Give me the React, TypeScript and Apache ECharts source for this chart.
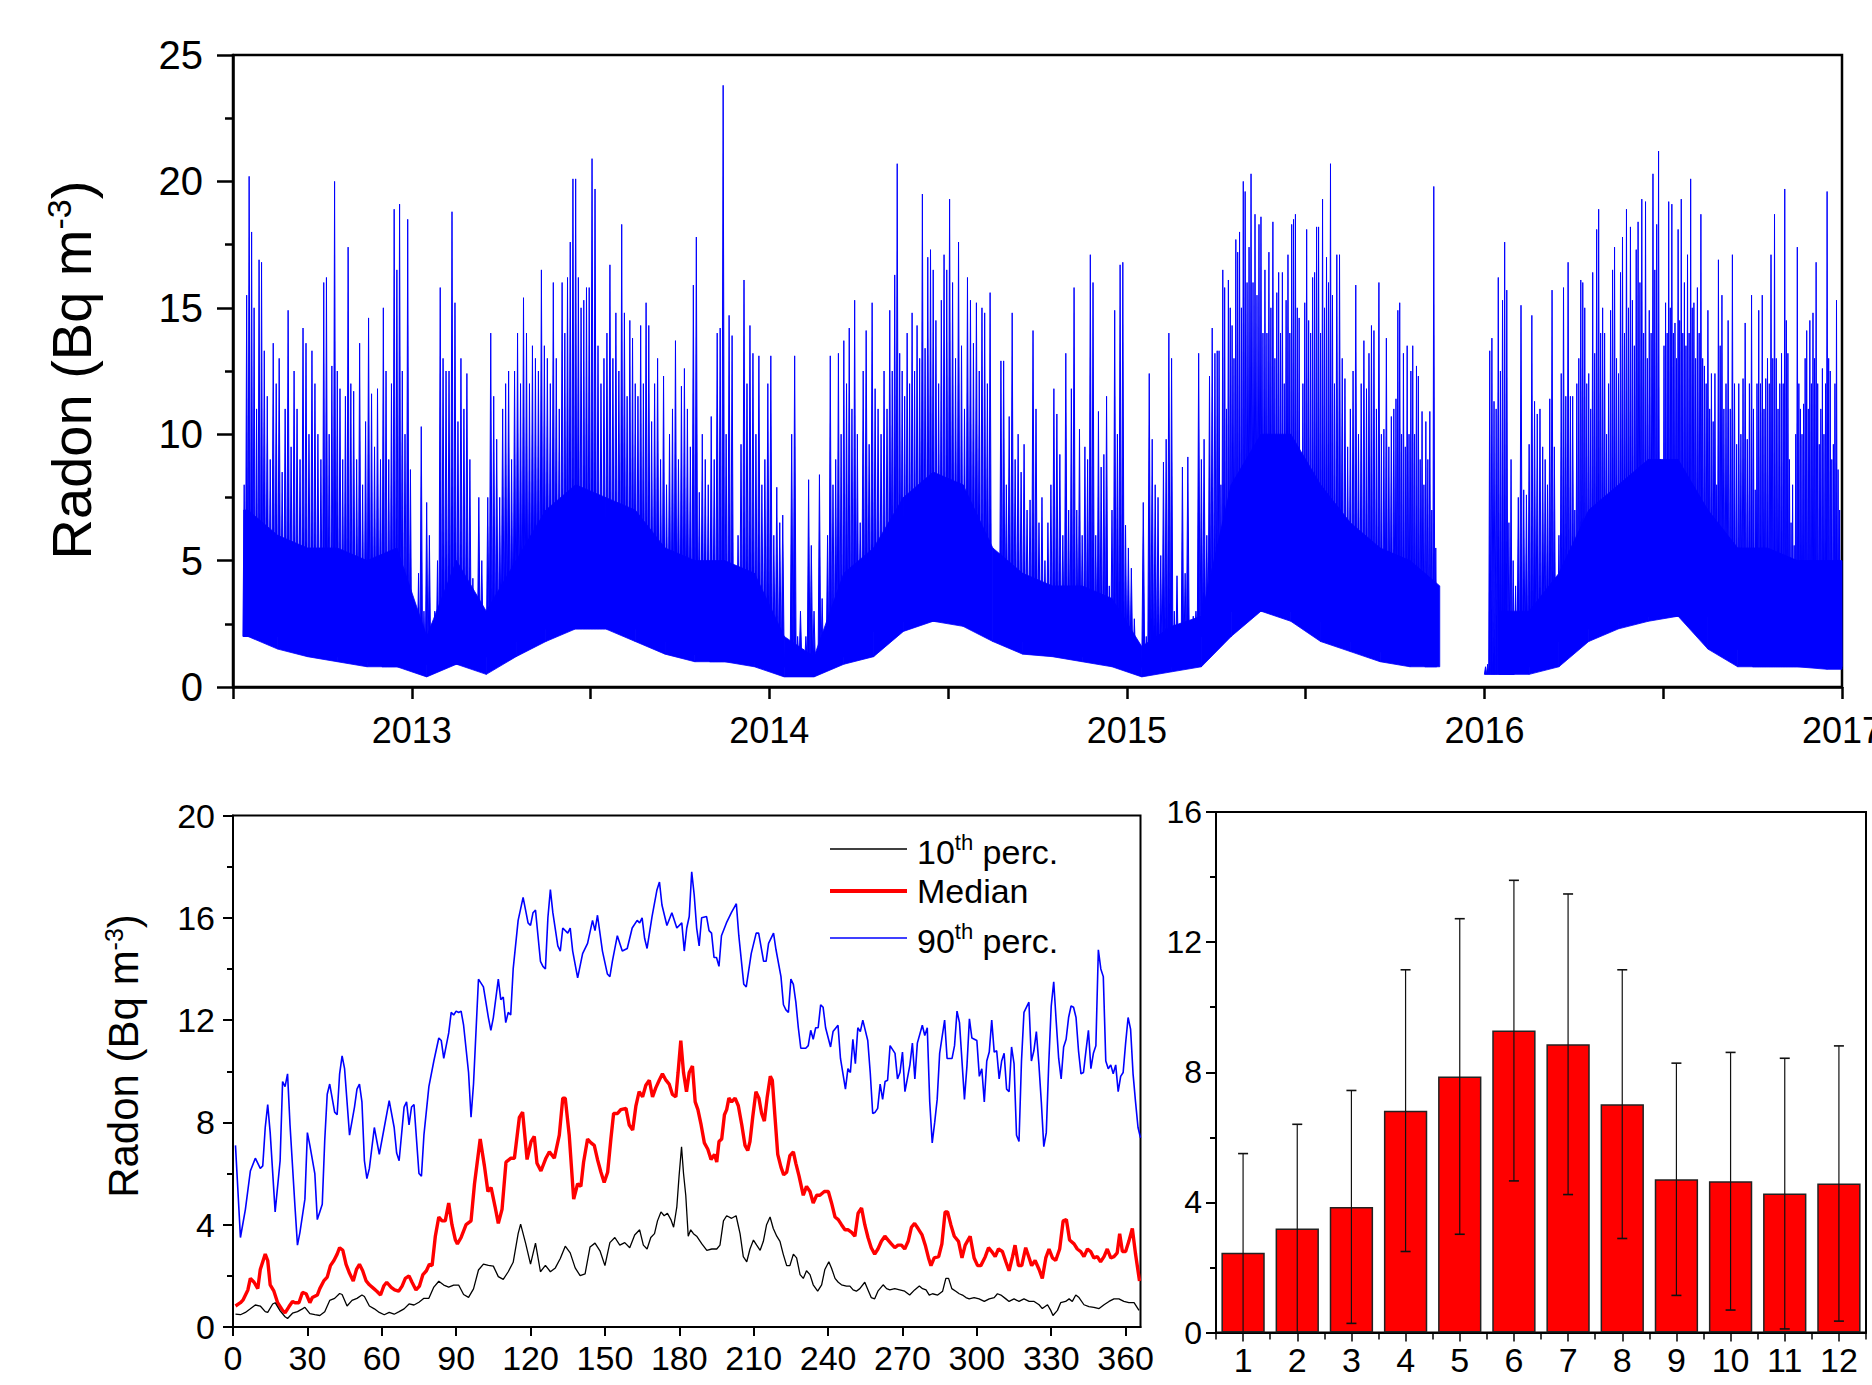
import React, { useEffect, useRef } from 'react';
import * as echarts from 'echarts';

const FONT = "'Liberation Sans', Arial, Helvetica, sans-serif";
const BLUE = '#0000ff';
const RED = '#ff0000';

// ---------- Top panel: hourly radon 2012.5 – 2017 ----------
const startYear = 2012.5; // first month = July 2012
const dataStart = 2012.53;
const dataEnd = 2017.0;
// notable spike peaks per month (Jul 2012 ... Dec 2016); null = no data
const monthSpikes: (number | null)[][] = [
  [null, null, null, null, 8, 15.5, 20.2, 18.0, 15.0, 11.0, 16.9, 16.8],
  [13.3, 11.5, 9.0, 13.6, 12.0, 13.0, 8.5, 11.0, 14.9, 9.5],
  [12.5, 11.0, 9.0, 14.2, 13.6, 10.0, 13.3, 12.0, 10.0, 9.0],
  [16.0, 16.2, 10.0, 12.7, 20.0, 12.5, 11.8, 9.0, 11.5, 17.4, 12.0],
  [11.7, 9.0, 13.6, 8.0, 10.5, 14.6, 11.6, 9.5, 11.8, 9.0],
  [15.0, 12.5, 9.0, 12.0, 18.9, 16.5, 19.1, 12.5, 10.0, 18.5, 8.6],
  [null, null, 4.5, 10.3, 3.0, 7.3, 6.0, 2.5, 3.0, 5.0, 15.8],
  [13.0, 12.5, 12.5, 18.8, 15.2, 10.5, 13.0, 11.0, 12.4, 9.0],
  [4.3, 2.0, 7.5, 5.0, 3.0, 7.5, 14.0, 11.5, 9.8, 7.5],
  [11.0, 12.0, 12.5, 9.0, 12.5, 14.0, 12.0, 15.4, 14.0, 12.0],
  [13.5, 13.0, 12.5, 16.5, 13.5, 13.0, 12.0, 16.0, 13.0, 11.0],
  [16.0, 14.0, 16.2, 17.6, 20.1, 20.1, 16.2, 15.0, 15.3, 15.8, 15.8],
  [20.9, 19.7, 13.5, 12.0, 13.0, 14.0, 16.7, 13.0, 14.8, 12.5],
  [18.3, 14.8, 11.5, 14.5, 13.8, 12.0, 11.5, 14.3, 12.0, 15.2, 14.3],
  [10.5, 12.0, 13.0, 9.0, 12.3, 8.0, 10.0, 11.0, 13.7, 9.0],
  [11.9, 12.6, 11.0, 9.5, 15.9, 17.8, 7.7, 10.0, 9.0, 8.0],
  [10.7, 9.0, 14.0, 14.2, 23.8, 10.0, 14.7, 13.9, 4.7, 6.0],
  [9.6, 16.1, 12.0, 14.3, 13.2, 10.0, 13.1, 8.0, 9.0, 12.0],
  [13.1, 6.0, 7.9, 6.5, 6.8, 1.5, 1.2, 10.0, 13.1, 2.0],
  [3.0, 1.5, 2.0, 8.2, 5.6, 3.0, null, 8.4, 3.5, 1.8, 6.0],
  [13.1, 8.0, 9.0, 13.2, 10.0, 13.7, 12.0, 14.2, 11.0, 15.3, 10.0],
  [6.5, 12.5, 14.1, 9.6, 15.2, 11.8, 11.0, 10.0, 12.5, 11.0],
  [14.9, 12.5, 16.3, 20.7, 13.2, 12.5, 11.5, 14.0, 12.0, 14.8, 12.5, 14.3],
  [13.0, 19.5, 13.4, 17.0, 17.3, 16.5, 14.5, 12.0, 15.3, 17.1, 16.5],
  [19.3, 16.0, 13.0, 17.6, 13.5, 11.0, 16.2, 15.3, 13.6, 15.2],
  [12.5, 15.0, 14.8, 12.0, 15.6, null, null, null, 12.9, 12.9, 8.0],
  [10.7, 14.8, 9.0, 10.0, 8.5, 9.6, 7.0, 7.4, 14.1, 11.0],
  [6.5, 7.5, 5.0, 6.5, 8.0, 11.8, 10.8, 9.2, 6.0, 13.2],
  [7.0, 11.8, 15.8, 7.0, 10.2, 6.0, 9.5, 9.0, 17.1, 16.0, 6.0],
  [10.9, 8.7, 9.2, 11.5, 4.0, 7.0, 14.9, 10.0, 16.7, 16.8, 6.4],
  [5.5, 4.7, 2.7, 1.5, 1.2, 7.3, 2.0, 12.4, 9.8, 8.0],
  [7.5, 5.2, 8.9, 9.8, 14.0, 13.0, 3.0, 4.4, 2.0, 8.7, 4.5],
  [9.1, 1.5, 2.8, 3.0, 13.2, 9.0, 9.8, 6.0, 12.3, 14.2, 13.2],
  [13.3, 13.3, 8.0, 16.5, 15.8, 11.0, 16.1, 15.0, 14.3, 13.0, 17.7, 17.2, 18.0, 15.0, 20.0, 19.6],
  [16.0, 17.4, 20.3, 16.0, 18.7, 15.5, 18.3, 18.6, 14.0, 16.5, 14.0, 17.2, 15.0, 18.4, 13.0],
  [15.6, 16.4, 14.0, 16.4, 12.0, 15.3, 17.1, 14.0, 18.3, 18.5, 18.7, 15.0, 14.6, 9.0, 12.0, 15.2],
  [18.1, 14.5, 14.0, 16.2, 16.4, 18.2, 18.2, 14.0, 19.3, 15.0, 17.0, 16.0, 20.7, 15.5, 12.0],
  [17.1, 17.1, 13.0, 12.2, 9.5, 11.0, 12.5, 15.9, 10.0, 12.0, 13.7],
  [11.8, 13.2, 14.3, 14.1, 11.0, 16.0, 10.0, 10.2, 13.8, 9.5, 10.7, 11.0],
  [11.4, 14.9, 15.2, 10.0, 13.2, 9.5, 13.5, 10.0, 12.5, 13.5, 10.0, 12.7, 12.3, 9.0, 10.9, 8.0],
  [10.5, 9.0, 10.9, 7.0, 19.8, 5.5, null, null, null, null, null, null, null, null, null],
  [null],
  [0.8, 0.9, 13.3, 13.8, 11.3, 11.0, 16.2, 12.5, 15.3, 17.6, 15.7, 6.5, 9.0, 5.0],
  [4.0, 7.5, 15.1, 7.8, 7.6, 9.6, 14.7, 11.3, 10.8, 11.0, 9.5],
  [9.0, 8.0, 11.4, 15.7, 9.5, 4.3, 6.0, 12.4, 15.8, 11.5, 16.8, 11.5, 11.5],
  [7.0, 12.0, 13.0, 16.1, 16.0, 15.0, 12.0, 12.4, 11.0, 16.4, 13.2, 18.1, 18.9, 14.0, 15.0],
  [14.0, 10.0, 12.0, 14.9, 16.5, 17.4, 13.0, 12.4, 16.4, 17.8, 14.0, 18.9, 15.0, 18.2, 15.3],
  [13.5, 17.3, 18.4, 16.0, 19.3, 14.0, 19.2, 13.0, 14.9, 14.0, 20.3, 16.5, 18.3, 21.2, 9.0, 7.5],
  [13.5, 15.2, 14.0, 19.2, 15.0, 19.1, 14.0, 14.4, 13.0, 18.1, 14.5, 19.3, 14.0, 16.0, 13.5, 17.1, 14.0, 20.1, 15.0],
  [15.2, 13.0, 15.8, 14.0, 18.7, 13.0, 12.7, 12.0, 14.9, 11.0, 12.4, 10.5, 12.4, 8.0, 16.9, 13.5, 15.5],
  [11.0, 12.0, 14.5, 11.0, 17.1, 12.0, 9.6, 12.0, 10.0, 12.2, 14.4, 9.8, 12.0, 15.5],
  [11.0, 7.8, 12.0, 14.9, 12.0, 15.5, 11.0, 12.2, 13.0, 12.0, 17.1, 13.0, 18.7, 13.0, 11.0, 12.0, 13.2],
  [12.0, 19.7, 14.5, 13.2, 9.0, 6.5, 8.0, 5.6, 10.0, 17.4, 12.0, 11.0, 10.0, 11.2, 13.0, 14.1, 11.0, 14.5, 12.0],
  [14.8, 13.0, 16.8, 12.0, 9.6, 11.0, 12.6, 10.0, 12.0, 19.6, 13.0, 12.5, 9.0, 9.6, 12.0, 15.3, 8.6, 7.0, 5.0],
];
// monthly typical minimum and top of the densely filled body
const monthLows: (number | null)[] = [
  2.0, 1.5, 1.2, 1.0, 0.8, 0.8,
  0.4, 0.9, 0.5, 1.2, 1.8, 2.3, 2.3, 1.8, 1.3, 1.0, 1.0, 0.8,
  0.4, 0.4, 0.9, 1.2, 2.2, 2.6, 2.4, 1.8, 1.3, 1.2, 1.0, 0.8,
  0.4, 0.6, 0.8, 2.0, 3.0, 2.6, 1.8, 1.4, 1.0, 0.8, 0.8, null,
  0.5, 0.5, 0.8, 1.8, 2.3, 2.6, 2.8, 1.5, 0.8, 0.8, 0.8, 0.7,
];
const monthTops: (number | null)[] = [
  7, 6, 5.5, 5.5, 5, 5.5,
  2, 5, 3, 5, 7, 8, 7.5, 7, 5.5, 5, 5, 4.5,
  2, 1.2, 4.5, 5.5, 7.5, 8.5, 8, 5.5, 4.5, 4, 4, 3.5,
  1.6, 2.4, 2.8, 8, 10, 10, 8, 6.5, 5.5, 5, 4, null,
  3, 3, 4.5, 7, 8, 9, 9, 7, 5.5, 5.5, 5, 5,
];

// ---------- Bottom-left: daily percentiles (day of year) ----------
const p10: [number, number][] = [
  [1,0.5],[3,0.48],[5,0.57],[7,0.71],[9,0.86],[11,0.82],[13,0.6],[14,0.57],[16,0.9],[17,0.95],[19,0.63],[21,0.4],[22,0.33],[24,0.54],[26,0.6],[28,0.71],[29,0.77],[31,0.52],[33,0.48],[35,0.45],[37,0.6],[39,1.04],[41,1.12],[43,1.31],[44,1.27],[46,0.82],[48,1.04],[50,1.12],[52,1.25],[53,1.19],[55,0.82],[57,0.71],[59,0.57],[61,0.48],[63,0.57],[65,0.5],[67,0.6],[69,0.71],[71,0.9],[73,0.86],[75,0.97],[77,1.12],[79,1.12],[81,1.56],[83,1.79],[85,1.64],[87,1.56],[89,1.64],[91,1.64],[93,1.27],[95,1.16],[97,1.49],[99,2.23],[101,2.46],[103,2.41],[105,2.38],[107,1.97],[109,1.86],[111,2.16],[113,2.53],[115,3.65],[116,4.02],[118,3.28],[120,2.46],[122,3.28],[124,2.16],[126,2.41],[128,2.16],[130,2.31],[132,2.68],[134,3.16],[136,2.9],[138,2.31],[140,2.01],[142,2.08],[144,3.13],[146,3.28],[148,2.98],[150,2.4],[152,3.3],[154,3.5],[156,3.2],[158,3.3],[160,3.1],[162,3.6],[164,3.8],[165.5,3.2],[167,3.05],[168.5,3.5],[170,3.65],[171.2,4.15],[172.6,4.5],[173.9,4.35],[175.2,4.45],[176.6,4.2],[177.7,3.9],[179,4.7],[179.9,5.9],[180.9,7.05],[181.7,6.0],[182.6,5.15],[183.6,3.55],[184.6,3.8],[185.7,3.65],[187,3.55],[189.1,3.25],[191.1,3.0],[193.1,3.05],[195.1,3.05],[196.4,3.2],[197.8,4.15],[199.1,4.35],[201.1,4.25],[202.9,4.35],[204.5,3.65],[205.8,2.75],[207.2,2.55],[208.5,3.05],[209.9,3.4],[211.2,3.2],[212.6,3.0],[213.9,3.35],[215.2,4.0],[216.6,4.3],[217.9,3.85],[219.3,3.55],[220.6,3.35],[221.9,2.85],[223.3,2.4],[224.6,2.4],[226,2.85],[227.3,2.7],[228.7,2.05],[230,1.9],[231.3,2.2],[232.7,2.05],[234,1.65],[235.8,1.4],[237.4,1.65],[238.7,2.25],[240.3,2.55],[241.4,2.3],[242.8,1.9],[244.1,1.75],[245.4,1.65],[247.4,1.6],[248.8,1.6],[250.1,1.45],[251.4,1.4],[252.8,1.5],[254.8,1.75],[256.1,1.45],[257.4,1.15],[258.8,1.1],[260.1,1.4],[262.2,1.65],[263.6,1.5],[264.9,1.45],[266.9,1.5],[268.9,1.45],[270.9,1.4],[272.9,1.25],[274.9,1.45],[276.8,1.6],[278.1,1.5],[279.5,1.45],[280.8,1.25],[282.1,1.3],[284.2,1.25],[286.2,1.4],[287.5,1.9],[288.6,1.9],[289.9,1.5],[291.5,1.4],[292.9,1.3],[294.2,1.25],[295.6,1.15],[296.9,1.1],[298.9,1.15],[300.9,1.1],[303,1.0],[305,1.1],[307,1.15],[308.3,1.3],[309.7,1.25],[311.7,1.1],[313,1.0],[315,1.1],[317,1.0],[319,1.1],[321.1,1.0],[323.1,1.0],[325.1,0.87],[326.4,0.72],[328.5,0.87],[329.8,0.65],[330.7,0.45],[332.5,0.65],[333.8,0.95],[335.8,1.0],[337.2,1.1],[338.5,1.0],[339.9,1.25],[341.2,1.15],[343.2,0.87],[345.2,0.8],[347.2,0.77],[349.3,0.72],[351.3,0.87],[353.3,1.0],[355.3,1.1],[357.3,1.1],[359.3,1.0],[361.3,0.95],[363.4,0.95],[365.4,0.65],
];
const median: [number, number][] = [
  [1,0.82],[3,0.95],[4,1.05],[6,1.45],[7,1.9],[8.5,1.75],[10,1.5],[11,2.25],[13,2.85],[14,2.6],[15,1.65],[16.5,1.4],[18,0.95],[20,0.65],[21,0.55],[22.6,0.8],[24,1.0],[25,0.95],[26.6,0.95],[28,1.35],[29.5,1.3],[31,0.95],[32,1.15],[34,1.25],[35,1.5],[36.6,1.8],[38,1.95],[39.3,2.4],[40.7,2.6],[42,2.85],[43,3.1],[44.3,3.0],[45.6,2.45],[47,2.1],[48.5,1.8],[49.8,2.25],[51,2.45],[52.3,2.2],[53.7,1.8],[55,1.65],[56.8,1.5],[58,1.4],[59.5,1.25],[60.8,1.6],[62,1.75],[63.8,1.55],[65.2,1.45],[66.8,1.4],[68.2,1.6],[69.5,1.9],[71,2.0],[72.2,1.75],[73.8,1.45],[75.2,1.6],[76.6,2.05],[78,2.2],[79.2,2.45],[80.3,2.4],[81.6,3.55],[83,4.3],[84.3,4.15],[85.6,4.15],[87,4.85],[88.3,4.0],[89.7,3.4],[90.5,3.25],[92,3.5],[94,4.0],[96,4.15],[97.4,5.6],[99.7,7.35],[101.4,6.3],[102.8,5.3],[104.1,5.45],[105.7,4.7],[107,4.05],[108.5,4.6],[110.1,6.45],[112.1,6.6],[113.5,6.6],[115.5,8.2],[116.8,8.4],[118.6,6.55],[120.2,7.25],[121.5,7.45],[122.6,6.4],[124.2,6.1],[126.2,6.6],[127.6,6.85],[129.6,6.6],[131.6,7.5],[133,8.95],[134,8.95],[135.6,7.5],[137.4,5.0],[139,5.6],[140.3,5.5],[141.4,6.45],[143,7.35],[144.4,7.2],[145.7,7.1],[147,6.55],[148.4,6.05],[149.7,5.65],[151.1,6.05],[152.4,7.35],[153.5,8.35],[155.1,8.35],[156.4,8.5],[158.5,8.55],[159.8,7.9],[161.2,7.7],[162.5,8.65],[163.8,9.2],[165.2,9.0],[166.5,9.45],[167.9,9.65],[169.2,9.0],[170.5,9.35],[171.9,9.65],[173.2,9.9],[174.6,9.65],[175.9,9.5],[177.2,9.1],[178.6,9.0],[179.5,9.95],[180.6,11.2],[181.7,9.95],[182.9,9.2],[184,9.95],[185.3,10.2],[186.4,8.8],[187.5,8.5],[188.8,7.9],[190.1,7.2],[191.5,6.95],[192.8,6.55],[194.2,6.75],[195.1,6.45],[196,7.25],[197.1,7.35],[198.2,8.3],[199.1,8.5],[200,8.95],[201.1,8.8],[202.5,8.95],[203.8,8.65],[205.2,7.9],[206.5,7.1],[207.6,6.9],[208.5,7.25],[209.6,8.2],[210.9,9.2],[212.1,8.95],[213.2,8.35],[214.3,8.05],[215.4,8.95],[216.7,9.8],[217.5,9.65],[218.6,8.2],[219.7,6.75],[221,6.25],[222.1,5.95],[223.3,6.05],[224.6,6.7],[226,6.85],[227,6.4],[228.3,5.9],[230,5.15],[231.3,5.5],[232.7,5.3],[234,4.85],[235.4,5.15],[236.7,5.15],[238.5,5.3],[240.1,5.3],[241.4,4.85],[242.8,4.3],[244.1,4.2],[245.4,4.0],[246.8,3.8],[248.1,3.8],[249.5,3.7],[250.8,3.55],[252.1,4.45],[253.5,4.65],[254.8,4.0],[256.1,3.5],[257.4,3.1],[258.8,2.85],[260.1,3.05],[261.5,3.35],[262.9,3.55],[264.2,3.4],[265.5,3.25],[266.9,3.1],[268.2,3.2],[269.6,3.2],[270.9,3.05],[272.3,3.35],[273.6,3.9],[274.9,4.05],[276.3,3.85],[277.9,3.6],[279.2,3.2],[280.5,2.7],[281.5,2.4],[282.8,2.7],[284.6,2.75],[285.9,3.25],[287.2,4.5],[288.2,4.5],[289.5,4.0],[290.9,3.55],[292.6,3.35],[294,2.7],[295.3,3.2],[297.3,3.55],[298.9,2.7],[300.3,2.4],[301.6,2.4],[303.4,2.75],[304.7,3.1],[306,2.95],[307.4,2.75],[308.7,3.05],[310.3,2.95],[311.7,2.55],[313,2.2],[314.4,2.75],[315.4,3.2],[316.8,2.4],[318.1,2.4],[319.7,3.1],[321.1,2.7],[322.1,2.4],[323.5,2.6],[325.1,2.25],[326.4,1.9],[327.8,2.7],[329.1,3.05],[330.5,2.7],[331.8,2.6],[333.4,3.05],[334.8,4.15],[336.1,4.2],[337.4,3.4],[339.2,3.25],[340.5,3.05],[341.9,2.95],[343.2,2.75],[344.6,3.05],[345.9,2.95],[347.2,2.7],[348.6,2.75],[349.9,2.55],[351.3,2.75],[352.6,3.05],[354,2.7],[355.3,2.75],[356.6,2.9],[357.6,3.65],[358.7,2.95],[360,2.95],[361.3,3.35],[362.7,3.85],[364,2.85],[365.6,1.8],
];
const p90: [number, number][] = [
  [1,7.1],[3,3.5],[5,4.6],[7,6.1],[9,6.6],[11,6.2],[12,6.3],[13,7.8],[14,8.7],[15,7.6],[17,4.5],[19,6.5],[20,9.6],[21,9.4],[22,9.9],[23,7.9],[25,4.7],[26,3.2],[27,3.7],[29,5.0],[30,7.6],[31,7.1],[33,6.0],[34,4.2],[35,4.5],[36,4.8],[37,7.3],[38,9.1],[39,9.5],[41,8.4],[42,8.3],[43,9.9],[44,10.6],[45,10.1],[47,7.5],[49,8.6],[50,9.3],[51,9.5],[52,8.8],[53,6.5],[54,5.8],[55,6.2],[57,7.8],[59,6.75],[61,7.8],[63,8.85],[65,7.8],[66,6.8],[67,6.5],[69,8.6],[70,8.8],[71,7.9],[72,8.6],[73,8.7],[75,6.0],[76,5.9],[77,7.5],[79,9.4],[81,10.4],[83,11.3],[84,11.2],[85,10.5],[87,11.5],[88,12.3],[89,12.2],[90,12.35],[91,12.3],[92,12.35],[93,11.8],[95,9.95],[96,8.2],[97,9.5],[99,13.6],[101,13.3],[103,12.1],[104,11.6],[105,12.1],[107,13.6],[108,12.8],[109,12.9],[110,11.9],[111,12.3],[112,12.2],[113,14.0],[115,15.9],[117,16.8],[119,15.8],[120,15.7],[121,16.2],[122,16.3],[123,15.3],[124,14.3],[125,14.1],[126,14.0],[127,16.0],[128,17.1],[129,16.2],[131,14.9],[132,14.7],[133,15.6],[135,15.4],[136,15.6],[137,14.7],[139,13.65],[141,14.6],[143,15.0],[145,15.9],[146,15.5],[147,16.1],[149,14.7],[151,13.8],[152,13.7],[153,14.3],[155,15.3],[157,14.7],[159,14.8],[161,15.6],[163,15.9],[164,15.8],[165,16.0],[166,15.2],[167,14.8],[169,16.05],[171,17.1],[172,17.4],[173,16.5],[175,15.7],[177,16.2],[179,15.6],[181,15.8],[182,14.7],[183,15.6],[184,16.05],[185,17.8],[186,16.9],[187,15.6],[188,14.9],[189,16.0],[191,16.05],[192,15.5],[193,15.4],[194,14.45],[195,14.45],[196,14.1],[197,15.3],[199,15.8],[201,16.2],[203,16.55],[204,15.3],[206,13.4],[207,13.3],[209,14.6],[211,15.4],[212,15.4],[214,14.3],[215,14.3],[216,15.0],[218,15.4],[219,14.75],[221,13.7],[222,12.6],[223,12.4],[224,12.3],[225,13.6],[226,13.4],[227,12.7],[228,11.7],[229,10.9],[231,10.9],[232,11.0],[233,11.6],[234,11.25],[235,11.7],[236,11.7],[237,12.6],[238,12.5],[239,11.7],[241,10.95],[242,11.55],[244,11.8],[245,10.5],[247,9.3],[248,10.1],[249,9.95],[250,11.25],[251,10.3],[252,11.7],[253,11.55],[254,12.0],[256,11.2],[257,9.95],[258,8.35],[259,8.4],[260,8.55],[261,9.5],[262,8.9],[263,9.6],[264,9.65],[265,11.0],[267,10.7],[268,9.7],[269,9.95],[270,10.75],[271,9.2],[273,10.25],[274,11.1],[275,9.7],[276,11.1],[278,11.8],[279,11.4],[280,11.7],[281,8.8],[282,7.2],[283,8.0],[284,8.9],[285,10.7],[287,12.0],[288,10.5],[290,10.5],[291,11.0],[292,12.35],[293,11.9],[295,8.9],[296,10.2],[297,12.05],[298,11.3],[300,11.2],[301,9.8],[302,10.1],[303,8.8],[304,10.4],[305,10.75],[306,12.0],[307,10.75],[308,10.8],[309,9.7],[310,10.4],[311,10.7],[312,9.3],[313,9.2],[314,10.95],[315,10.3],[316,7.5],[317,7.25],[318,10.4],[319,12.3],[321,12.7],[322,10.4],[323,10.8],[324,11.55],[325,10.3],[326,8.8],[327,7.05],[328,7.6],[329,10.3],[330,12.55],[331,13.5],[332,11.95],[333,10.5],[334,9.7],[335,10.95],[336,11.25],[337,12.1],[338,12.55],[339,12.5],[340,12.1],[341,10.8],[342,9.9],[343,9.95],[344,10.8],[345,11.6],[346,10.1],[347,10.7],[348,11.0],[349,14.75],[350,14.0],[351,13.7],[352,10.4],[353,10.1],[354,10.25],[355,9.9],[356,10.25],[357,9.2],[358,9.8],[359,9.95],[360,11.1],[361,12.1],[362,11.65],[363,9.9],[364,8.8],[365,7.8],[366,7.4],
];

// ---------- Bottom-right: monthly means ± SD ----------
const monthLabels = ['1', '2', '3', '4', '5', '6', '7', '8', '9', '10', '11', '12'];
const monthMeans = [2.45, 3.2, 3.86, 6.82, 7.87, 9.28, 8.86, 7.02, 4.71, 4.65, 4.27, 4.58];
const monthSDs = [3.05, 3.2, 3.58, 4.33, 4.85, 4.62, 4.62, 4.13, 3.57, 3.96, 4.16, 4.23];

// base of the spikes in month m: the highest of the neighbouring monthly lows,
// so every spike rests inside the filled body
function spikeBase(m: number) {
  const cands = [monthLows[m - 1], monthLows[m], monthLows[m + 1]].filter((v) => v != null) as number[];
  return Math.max(...cands);
}

// one item per spike: [time, peak, base, half-width]
function buildSpikeItems() {
  const items: number[][] = [];
  monthSpikes.forEach((list, m) => {
    const t0 = startYear + m / 12;
    const step = 1 / 12 / list.length;
    if (monthLows[m] == null) return;
    const base = m === 42 ? (monthLows[m] as number) : spikeBase(m);
    list.forEach((v, i) => {
      if (v == null) return;
      items.push([t0 + (i + 0.5) * step, v, base, step / 2]);
    });
  });
  return items;
}

// body polygons: [x0, low0, top0, x1, low1, top1]
function buildBandSegments() {
  const segs: number[][] = [];
  const n = monthLows.length;
  for (let m = 0; m < n; m++) {
    const l = monthLows[m], t = monthTops[m];
    if (l == null || t == null) continue;
    const mid = startYear + (m + 0.5) / 12;
    const nextOk = m < n - 1 && monthLows[m + 1] != null;
    if (m === 0) segs.push([dataStart, l, t, mid, l, t]);
    if (nextOk) {
      segs.push([mid, l, t, startYear + (m + 1.5) / 12, monthLows[m + 1] as number, monthTops[m + 1] as number]);
    } else if (m === n - 1) {
      segs.push([mid, l, t, dataEnd, l, t]);
    }
  }
  return segs;
}

const axisBlack = (w: number) => ({ show: true, lineStyle: { color: '#000', width: w } });

export default function App() {
  const ref = useRef<HTMLDivElement>(null);
  useEffect(() => {
    document.body.style.margin = '0';
    if (!ref.current) return;
    const chart = echarts.init(ref.current, undefined, { renderer: 'svg' });

    const labelStyle = (size: number, margin: number) => ({
      color: '#000',
      fontSize: size,
      fontFamily: FONT,
      margin,
    });

    const supRich = (big: number, small: number, lh: number, pad: number) => ({
      a: { fontSize: big, fontFamily: FONT, fill: '#000', lineHeight: lh, verticalAlign: 'bottom' },
      b: { fontSize: small, fontFamily: FONT, fill: '#000', lineHeight: small, verticalAlign: 'top', padding: [pad, 0, 0, 0] },
    });

    const option: any = {
      animation: false,
      backgroundColor: '#fff',
      grid: [
        { left: 233, top: 55, width: 1609, height: 632, show: true, borderColor: '#000', borderWidth: 2.5, outerBoundsMode: 'none', containLabel: false },
        { left: 233, top: 815.5, width: 907.5, height: 511.5, show: true, borderColor: '#000', borderWidth: 2, outerBoundsMode: 'none', containLabel: false },
        { left: 1216, top: 812, width: 650, height: 520.5, show: true, borderColor: '#000', borderWidth: 2, outerBoundsMode: 'none', containLabel: false },
      ],
      xAxis: [
        {
          gridIndex: 0, type: 'value', min: 2012.5, max: 2017, interval: 0.5,
          axisLine: axisBlack(2.5),
          axisTick: { show: true, length: 12, lineStyle: { color: '#000', width: 2.5 } },
          splitLine: { show: false },
          axisLabel: {
            ...labelStyle(36, 25),
            formatter: (v: number) => (Math.abs(v - Math.round(v)) < 1e-6 ? String(Math.round(v)) : ''),
          },
        },
        {
          gridIndex: 1, type: 'value', min: 0, max: 366, interval: 30,
          axisLine: axisBlack(2),
          axisTick: { show: true, length: 9, lineStyle: { color: '#000', width: 2 } },
          splitLine: { show: false },
          axisLabel: { ...labelStyle(34, 14), showMaxLabel: false },
        },
        {
          gridIndex: 2, type: 'category', data: monthLabels, position: 'bottom',
          axisLine: axisBlack(2),
          axisTick: { show: true, alignWithLabel: false, length: 7, lineStyle: { color: '#000', width: 1.5 } },
          axisLabel: labelStyle(34, 10),
        },
        {
          gridIndex: 2, type: 'category', data: monthLabels, position: 'bottom',
          axisLine: { show: false },
          axisTick: { show: true, alignWithLabel: true, length: 9, lineStyle: { color: '#000', width: 1.5 } },
          axisLabel: { show: false },
        },
      ],
      yAxis: [
        {
          gridIndex: 0, type: 'value', min: 0, max: 25, interval: 5,
          axisLine: axisBlack(2.5),
          axisTick: { show: true, length: 16, lineStyle: { color: '#000', width: 2.5 } },
          minorTick: { show: true, splitNumber: 2, length: 8, lineStyle: { color: '#000', width: 2.5 } },
          splitLine: { show: false },
          axisLabel: labelStyle(40, 30),
        },
        {
          gridIndex: 1, type: 'value', min: 0, max: 20, interval: 4,
          axisLine: axisBlack(2),
          axisTick: { show: true, length: 10, lineStyle: { color: '#000', width: 2 } },
          minorTick: { show: true, splitNumber: 2, length: 6, lineStyle: { color: '#000', width: 2 } },
          splitLine: { show: false },
          axisLabel: labelStyle(34, 18),
        },
        {
          gridIndex: 2, type: 'value', min: 0, max: 16, interval: 4,
          axisLine: axisBlack(2),
          axisTick: { show: true, length: 10, lineStyle: { color: '#000', width: 2 } },
          minorTick: { show: true, splitNumber: 2, length: 6, lineStyle: { color: '#000', width: 2 } },
          splitLine: { show: false },
          axisLabel: labelStyle(32, 14),
        },
      ],
      series: [
        {
          type: 'custom', xAxisIndex: 0, yAxisIndex: 0, z: 1, silent: true,
          data: buildBandSegments(),
          encode: { x: [0, 3], y: [1, 2, 4, 5] },
          renderItem: (params: any, api: any) => {
            const x0 = api.value(0), l0 = api.value(1), t0 = api.value(2);
            const x1 = api.value(3), l1 = api.value(4), t1 = api.value(5);
            const pts = [api.coord([x0, l0]), api.coord([x1, l1]), api.coord([x1, t1]), api.coord([x0, t0])];
            return { type: 'polygon', shape: { points: pts }, style: { fill: BLUE, stroke: BLUE, lineWidth: 0.8 } };
          },
        },
        {
          type: 'custom', xAxisIndex: 0, yAxisIndex: 0, z: 2, silent: true,
          data: buildSpikeItems(),
          encode: { x: 0, y: [1, 2] },
          renderItem: (params: any, api: any) => {
            const t = api.value(0), v = api.value(1), low = api.value(2), hw = api.value(3);
            const pts = [api.coord([t - hw, low]), api.coord([t, v]), api.coord([t + hw, low])];
            return {
              type: 'polygon',
              shape: { points: pts },
              style: { fill: BLUE, stroke: BLUE, lineWidth: 1, lineJoin: 'bevel' },
            };
          },
        },
        {
          name: '90th perc.', type: 'line', xAxisIndex: 1, yAxisIndex: 1, data: p90, symbol: 'none',
          lineStyle: { color: BLUE, width: 1.6 },
        },
        {
          name: 'Median', type: 'line', xAxisIndex: 1, yAxisIndex: 1, data: median, symbol: 'none',
          lineStyle: { color: RED, width: 3.4 },
        },
        {
          name: '10th perc.', type: 'line', xAxisIndex: 1, yAxisIndex: 1, data: p10, symbol: 'none',
          lineStyle: { color: '#000', width: 1.3 },
        },
        {
          type: 'bar', xAxisIndex: 2, yAxisIndex: 2, data: monthMeans, barWidth: '80%',
          itemStyle: { color: RED, borderColor: '#222', borderWidth: 1.5 },
        },
        {
          type: 'custom', xAxisIndex: 2, yAxisIndex: 2, z: 5,
          data: monthMeans.map((m, i) => [i, m, monthSDs[i]]),
          encode: { x: 0, y: 1 },
          renderItem: (params: any, api: any) => {
            const i = api.value(0);
            const m = api.value(1);
            const s = api.value(2);
            const lowV = m - s;
            const top = api.coord([i, m + s]);
            const bot = api.coord([i, Math.max(0, lowV)]);
            const cap = 5;
            const st = { stroke: '#111', lineWidth: 1.2 };
            const children: any[] = [
              { type: 'line', shape: { x1: top[0], y1: top[1], x2: bot[0], y2: bot[1] }, style: st },
              { type: 'line', shape: { x1: top[0] - cap, y1: top[1], x2: top[0] + cap, y2: top[1] }, style: { ...st, lineWidth: 1.6 } },
            ];
            if (lowV > 0.01) {
              children.push({ type: 'line', shape: { x1: bot[0] - cap, y1: bot[1], x2: bot[0] + cap, y2: bot[1] }, style: { ...st, lineWidth: 1.6 } });
            }
            return { type: 'group', children };
          },
        },
      ],
      graphic: [
        {
          type: 'text', x: 67.5, y: 370, rotation: Math.PI / 2,
          style: {
            text: '{a|Radon (Bq m}{b|-3}{a|)}',
            align: 'center', verticalAlign: 'middle', fill: '#000',
            rich: supRich(56, 34, 64, 6),
          },
        },
        {
          type: 'text', x: 120.5, y: 1056, rotation: Math.PI / 2,
          style: {
            text: '{a|Radon (Bq m}{b|-3}{a|)}',
            align: 'center', verticalAlign: 'middle', fill: '#000',
            rich: supRich(42, 25, 48, 5),
          },
        },
        { type: 'line', shape: { x1: 830, y1: 849, x2: 907, y2: 849 }, style: { stroke: '#000', lineWidth: 1.5 } },
        { type: 'line', shape: { x1: 830, y1: 891, x2: 907, y2: 891 }, style: { stroke: RED, lineWidth: 4 } },
        { type: 'line', shape: { x1: 830, y1: 938, x2: 907, y2: 938 }, style: { stroke: BLUE, lineWidth: 1.6 } },
        {
          type: 'text', x: 917, y: 849,
          style: { text: '{a|10}{b|th}{a| perc.}', align: 'left', verticalAlign: 'middle', fill: '#000', rich: supRich(34, 22, 40, 2) },
        },
        {
          type: 'text', x: 917, y: 891,
          style: { text: 'Median', align: 'left', verticalAlign: 'middle', fill: '#000', fontSize: 34, fontFamily: FONT },
        },
        {
          type: 'text', x: 917, y: 938,
          style: { text: '{a|90}{b|th}{a| perc.}', align: 'left', verticalAlign: 'middle', fill: '#000', rich: supRich(34, 22, 40, 2) },
        },
      ],
    };
    chart.setOption(option);
    return () => chart.dispose();
  }, []);
  return <div ref={ref} style={{ width: 1872, height: 1385, background: '#fff' }} />;
}
